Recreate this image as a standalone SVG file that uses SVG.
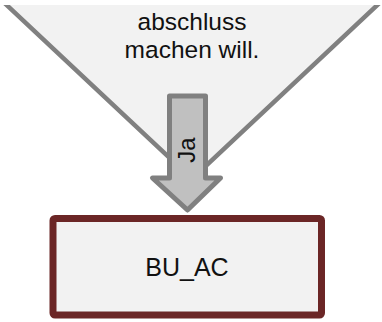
<svg xmlns="http://www.w3.org/2000/svg" width="382" height="322" viewBox="0 0 382 322">
  <style>
    .lbl { font-family: "Liberation Sans", Arial, sans-serif; fill: #111111; text-anchor: middle; }
    .dec { fill: #f2f2f2; stroke: #808080; stroke-width: 4.5; }
    .task { fill: #f2f2f2; stroke: #6b2626; stroke-width: 7; }
    .flow { fill: #c0c0c0; stroke: #808080; stroke-width: 5; stroke-linejoin: round; }
  </style>
  <defs>
    <clipPath id="clipTop">
      <rect x="0" y="5" width="382" height="317"/>
    </clipPath>
  </defs>
  <rect x="0" y="0" width="382" height="322" fill="#ffffff"/>
  <g id="decision" clip-path="url(#clipTop)">
    <polygon class="dec" points="-20,-20 404,-20 192,179"/>
    <text class="lbl" x="192" y="30" font-size="24.5">abschluss</text>
    <text class="lbl" x="192" y="57.5" font-size="24.5">machen will.</text>
  </g>
  <g id="connectors">
    <polygon class="flow" points="169.5,96 205.5,96 205.5,178 220.5,178 187.5,210 152.5,178 169.5,178"/>
    <text class="lbl" font-size="24" transform="translate(195,150) rotate(-90)" x="0" y="0">Ja</text>
  </g>
  <g id="BU_AC">
    <rect class="task" x="53" y="218.5" width="268.5" height="96.5" rx="2"/>
    <text class="lbl" x="187" y="276" font-size="25">BU_AC</text>
  </g>
</svg>
